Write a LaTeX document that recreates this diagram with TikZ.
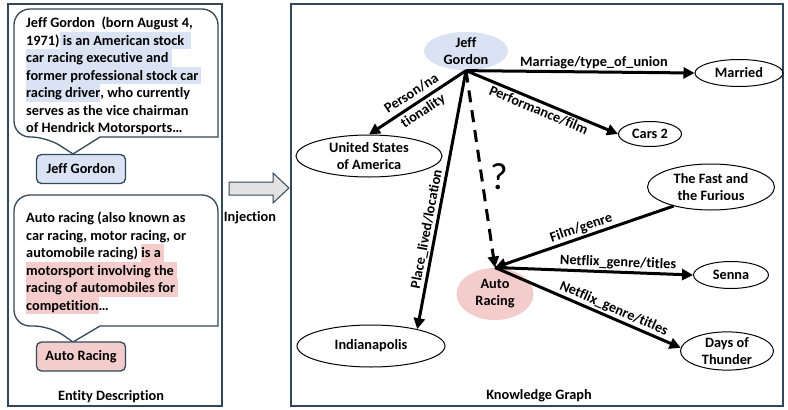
\documentclass[tikz,border=0pt]{standalone}
\usepackage{fontspec}
\setmainfont{Carlito}[Ligatures=NoCommon]
\usetikzlibrary{shapes.geometric,arrows.meta}

\definecolor{frame}{RGB}{50,72,90}
\definecolor{hlblue}{RGB}{218,227,243}
\definecolor{hlpink}{RGB}{245,204,204}
\definecolor{arrowgrey}{RGB}{226,226,226}

% highlighted runs of text, one full line tall
\newcommand\hlb[1]{{\setlength\fboxsep{0pt}\colorbox{hlblue}{\rule[-4.4pt]{0pt}{17.6pt}#1}}}
\newcommand\hlp[1]{{\setlength\fboxsep{0pt}\colorbox{hlpink}{\rule[-4.4pt]{0pt}{17.6pt}#1}}}

\tikzset{
  bodyfont/.style={font=\bfseries\fontsize{14.3}{17.5}\selectfont},
  txtline/.style={bodyfont, anchor=base west, inner sep=0pt},
  panel/.style={draw=frame, line width=1.4pt},
  bubble/.style={draw=frame, line width=1.3pt},
  ebox/.style={draw=frame, line width=1.3pt, rounded corners=5pt, bodyfont,
    minimum width=89pt, minimum height=29pt, inner sep=0pt},
  ent/.style={ellipse, draw, line width=1pt, inner sep=0pt, align=center,
    font=\bfseries\fontsize{14.3}{17}\selectfont},
  rel/.style={line width=3pt, -{Triangle[length=11pt,width=11pt]}},
  relq/.style={rel, dash pattern=on 12pt off 8pt},
  lbl/.style={font=\bfseries\fontsize{14.3}{16}\selectfont, inner sep=1.5pt},
}

\begin{document}
\begin{tikzpicture}[x=1pt,y=-1pt]
\useasboundingbox (0,0) rectangle (788,410);
\fill[white] (0,0) rectangle (788,410);

% ---------------- entity description panel ----------------
\draw[panel] (8,4) rectangle (222,406);

% first speech bubble
\draw[bubble, rounded corners=16pt] (14,70) -- (14,137) -- (47,137)
  [sharp corners] -- (73,154) -- (100,137) -- (218,137)
  [rounded corners=16pt] -- (218,9) -- (14,9) -- cycle;
\node[txtline] (a1) at (26,27.5) {Jeff Gordon\ \ (born August 4,};
\node[txtline] (a2) at (26,45)   {1971)\hlb{ is an American stock\ \ }};
\node[txtline] (a3) at (26,62.5) {\hlb{car racing executive and\ }};
\node[txtline] (a4) at (26,80)   {\hlb{former professional stock car\,}};
\node[txtline] (a5) at (26,97.5) {\hlb{racing driver}, who currently};
\node[txtline] (a6) at (26,115)  {serves as the vice chairman};
\node[txtline] (a7) at (26,132.5){of Hendrick Motorsports…};
\node[ebox, fill=hlblue] (jgbox) at (81,169) {Jeff Gordon};

% second speech bubble
\draw[bubble, rounded corners=16pt] (14,260) -- (14,326) -- (50,326)
  [sharp corners] -- (73,342) -- (100,326) -- (218,326)
  [rounded corners=16pt] -- (218,195) -- (14,195) -- cycle;
\node[txtline] (b1) at (26,222.5) {Auto racing (also known as};
\node[txtline] (b2) at (26,240)   {car racing, motor racing, or};
\node[txtline] (b3) at (26,257.5) {automobile racing) \hlp{is a\ }};
\node[txtline] (b4) at (26,275)   {\hlp{motorsport involving the\ }};
\node[txtline] (b5) at (26,292.5) {\hlp{racing of automobiles for\ }};
\node[txtline] (b6) at (26,310)   {\hlp{competition}…};
\node[ebox, fill=hlpink] (arbox) at (81,356.5) {Auto Racing};

\node[bodyfont] (edesc) at (111,397) {Entity Description};

% ---------------- injection arrow ----------------
\draw[draw=frame, line width=1pt, fill=arrowgrey]
  (229,182) -- (273,182) -- (273,173) -- (289,188) -- (273,203)
  -- (273,195) -- (229,195) -- cycle;
\node[bodyfont] (inj) at (250,218) {Injection};

% ---------------- knowledge graph panel ----------------
\draw[panel] (291,4) rectangle (783,406);
\node[bodyfont] (kgt) at (539,396) {Knowledge Graph};

\node[ent, draw=none, fill=hlblue, minimum width=84pt, minimum height=38pt] (jg) at (466,51) {Jeff\\Gordon};
\node[ent, minimum width=146pt, minimum height=42pt] (usa) at (369,156) {United States\\of America};
\node[ent, minimum width=88pt, minimum height=27pt] (mar) at (739,73) {Married};
\node[ent, minimum width=63pt, minimum height=25pt] (cars) at (650,134) {Cars 2};
\node[ent, minimum width=127pt, minimum height=46pt] (ff) at (711,187) {The Fast and\\the Furious};
\node[ent, minimum width=75pt, minimum height=27pt] (sen) at (731,275) {Senna};
\node[ent, minimum width=93pt, minimum height=38pt] (dot) at (727,351) {Days of\\Thunder};
\node[ent, draw=none, fill=hlpink, minimum width=77pt, minimum height=52pt] (ar) at (495,294) {Auto\\Racing};
\node[ent, minimum width=148pt, minimum height=42pt] (ind) at (371,346) {Indianapolis};

% relations
\draw[rel] (jg.south) -- node[lbl, sloped, align=center, pos=0.5,
  font=\bfseries\fontsize{14.3}{21}\selectfont] {Person/na\\tionality} (usa.north);
\draw[rel] (jg.south) -- node[lbl, above, pos=0.56] {Marriage/type\_of\_union} (mar.west);
\draw[rel] (jg.south) -- node[lbl, sloped, below, pos=0.5] {Performance/film} (cars.west);
\draw[rel] (jg.south) -- node[lbl, sloped, above, pos=0.62] {Place\_lived/location} (ind.20);
\draw[relq] (jg.south) -- node[pos=0.54, right=7pt, inner sep=0pt, font=\fontsize{38}{38}\selectfont] {?} (ar.north);
\draw[rel] (ff.207) -- node[lbl, sloped, above, pos=0.5] {Film/genre} (ar.north);
\draw[rel] (ar.north) -- node[lbl, sloped, above, pos=0.62] {Netflix\_genre/titles} (sen.west);
\draw[rel] (ar.north) -- node[lbl, sloped, above, pos=0.62] {Netflix\_genre/titles} (dot.176);
\end{tikzpicture}
\end{document}
